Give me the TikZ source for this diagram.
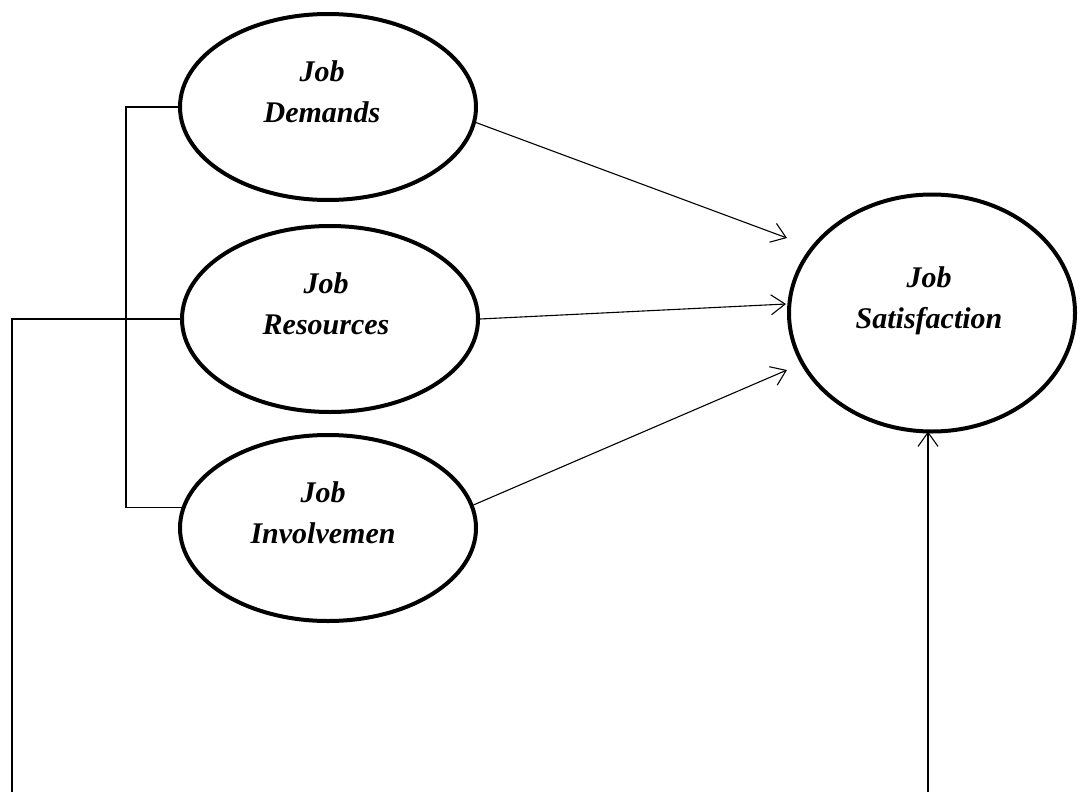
\documentclass[tikz,border=0pt]{standalone}
\usepackage{fontspec}
\setmainfont{Liberation Serif}
\usetikzlibrary{shapes.geometric,arrows.meta}
\begin{document}
\begin{tikzpicture}[x=1pt,y=-1pt,
  ell/.style={draw=black,ellipse,line width=4pt,inner sep=0pt,minimum width=296pt,minimum height=186pt},
  lbl/.style={anchor=north,align=center,inner sep=0pt,font=\fontsize{30}{41}\selectfont\bfseries\itshape},
  conn/.style={draw=black,line width=1.1pt},
  arr/.style={conn,-{Straight Barb[length=14pt,width=20pt,line width=1.1pt]}}]
\useasboundingbox (0,0) rectangle (1081,792);
\node[ell] (dem) at (328,107) {};
\node[ell] (res) at (330,319) {};
\node[ell] (inv) at (328,528) {};
\node[ell,minimum width=286pt,minimum height=237pt] (sat) at (932,313) {};
\node[lbl] (demt) at ([xshift=-6pt,yshift=47pt]dem.center) {Job\\Demands};
\node[lbl] (rest) at ([xshift=-4pt,yshift=47pt]res.center) {Job\\Resources};
\node[lbl] (invt) at ([xshift=-5pt,yshift=47pt]inv.center) {Job\\Involvemen};
\node[lbl] (satt) at ([xshift=-3pt,yshift=47pt]sat.center) {Job\\Satisfaction};
\coordinate (t1) at (787,238);
\coordinate (t2) at (786,304);
\coordinate (t3) at (787,370);
\coordinate (bx) at (126,0);
\coordinate (rl) at (12,792);
\coordinate (sb) at (928,792);
\draw[arr] (dem.-6) -- (t1);
\draw[arr] (res.east) -- (t2);
\draw[arr] (inv.9) -- (t3);
\draw[conn] (dem.west) -- (dem.west -| bx) |- (inv.172);
\draw[conn] (res.west) -| (rl);
\draw[arr,shorten >=-2pt] (sb) -- (sb |- sat.south);
\end{tikzpicture}
\end{document}
